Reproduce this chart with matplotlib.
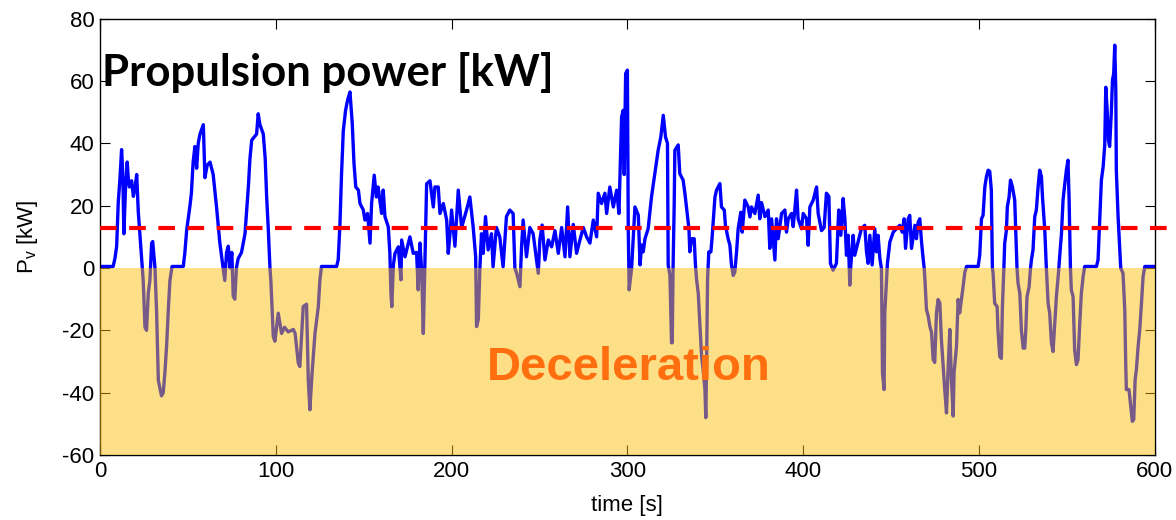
import matplotlib
matplotlib.use("Agg")
import matplotlib.pyplot as plt

plt.rcParams['font.family'] = ['Liberation Sans', 'DejaVu Sans']
plt.rcParams['mathtext.default'] = 'regular'
plt.rcParams['axes.unicode_minus'] = False

# Drive cycle propulsion power
time_s = [
    0, 7.5, 8.5, 9.5, 10.4, 11.3, 12.3, 13, 13.6, 14.5, 15.5, 16.2, 16.8, 18, 19, 20, 20.9, 21.8, 22.8, 23.7,
    24.6, 25.6, 26.5, 27.5, 28.4, 29.4, 30, 31.3, 32.2, 33.2, 35, 36, 37, 37.9, 39, 39.8, 41, 47.4, 48.3, 49.3,
    51.2, 52, 53, 54, 55, 55.9, 56.9, 58.8, 59.7, 61, 62.6, 64.4, 65.5, 66.4, 68.2, 70.1, 71, 72, 73, 74,
    75, 75.8, 76.7, 77.6, 78.6, 80.5, 82.5, 84.4, 85.3, 86.3, 89.1, 90, 91, 92.9, 94, 94.8, 95.7, 96.7, 97.2, 98.6,
    99.5, 101.4, 103.3, 105, 107.1, 110, 111, 112.8, 113.7, 115.6, 117.5, 118.5, 119.4, 120.6, 122.3, 124.2, 125.1, 126, 134.6, 135.5,
    136.5, 137.4, 138.4, 139.7, 140.9, 142.2, 143.5, 144.5, 145.5, 147, 147.9, 149.8, 150.7, 152.2, 153.6, 154.5, 156, 157.2, 158.2, 160.2,
    161.1, 162.1, 164, 164.9, 165.5, 166, 166.9, 167.8, 169.7, 171.2, 171.6, 173.5, 176.3, 178.2, 180.1, 181, 182, 183, 183.9, 184.8,
    185.8, 187.7, 189.6, 190.5, 192.4, 193.4, 195.3, 197.2, 198.1, 199.1, 200, 201.9, 203.8, 205.7, 208.5, 210.4, 212.3, 213.7, 214.2, 215.2,
    216.1, 217, 218, 219.3, 220.8, 222.7, 223.6, 225.5, 227.4, 229.3, 231.2, 233.1, 235, 236, 237, 238.9, 239.8, 240.7, 242.6, 244.5,
    246.4, 248.3, 249.3, 250.2, 251.5, 253.1, 255, 256.9, 258.8, 260.7, 262.6, 264.5, 266, 267.3, 269.2, 271.1, 273, 274.9, 276.8, 278.7,
    280.6, 282.5, 283.4, 285.3, 287.2, 288.2, 290, 292, 293.9, 295.2, 296.7, 297.6, 298.2, 299, 300, 300.5, 301, 302.4, 304.3, 306.2,
    307.2, 308.1, 309, 310, 311.8, 313.7, 315.6, 317.5, 319, 320.4, 321.7, 322.8, 323.2, 324.2, 325.1, 325.5, 326, 326.6, 327, 328.9,
    329.8, 331.7, 332.7, 333.6, 335, 335.5, 336.5, 338, 338.7, 339.3, 340.3, 341.2, 342.2, 343.1, 344.1, 344.6, 345, 345.6, 346.3, 347.5,
    348.2, 349.8, 350.7, 352.6, 353.5, 355.1, 355.8, 357.3, 358.3, 359.2, 360.2, 361.1, 362.1, 363, 364.5, 365.3, 366.8, 368.7, 369.7, 370.6,
    372.5, 374.4, 375.3, 376.3, 378.2, 380.1, 381, 382, 383.9, 384.8, 385.8, 387.7, 389.6, 390.5, 391.5, 393.4, 394.3, 395.2, 396.2, 397.1,
    399, 400, 401.9, 402.8, 403.8, 405.7, 407.6, 408.5, 410.4, 411.9, 413.2, 414.6, 415.5, 417, 418.9, 420.2, 421.4, 422.7, 423.7, 424.6,
    425.6, 426.5, 427.1, 428.4, 429.3, 431.2, 433.1, 435, 436, 436.9, 437.9, 439.2, 440.7, 441.7, 442.6, 443.6, 444.5, 445.1, 446, 446.4,
    447.4, 447.9, 449.3, 451.2, 453, 454.9, 456.3, 457.4, 458.2, 459.7, 460.6, 461.6, 463.5, 464.4, 465.4, 466.3, 467.3, 468.2, 468.8, 469.2,
    470.1, 471.1, 472, 473, 473.9, 474.8, 475.8, 476.7, 477.7, 478.6, 479.6, 480.5, 481.5, 482.4, 483.4, 484.3, 485.3, 485.8, 487.2, 488.1,
    489, 490, 491, 491.9, 492.9, 499.5, 500.4, 501.4, 502.3, 503.3, 504.2, 505.2, 506.1, 507, 507.6, 508, 508.9, 510.3, 510.8, 511.8,
    512.7, 513.3, 514.1, 514.6, 515.6, 516.1, 517.1, 517.9, 519, 520.3, 520.9, 521.6, 522.2, 523.2, 524.1, 525.1, 526, 526.6, 527.3, 528.5,
    529.2, 529.8, 530.7, 531.7, 532.6, 533.6, 534.5, 535.5, 536.1, 537.4, 538.3, 539.3, 540.2, 541.2, 542.1, 543.1, 544, 545, 545.9, 546.9,
    547.8, 548.8, 549.7, 550.6, 551.2, 552, 552.5, 553.5, 554.4, 555.4, 556.3, 557.3, 558.2, 559.2, 560.1, 566.8, 567.7, 568.7, 569.6, 570.6,
    571.5, 572.1, 572.8, 573.6, 574.3, 575.3, 575.9, 576.6, 577.2, 577.8, 578.1, 579.1, 580, 580.6, 581.9, 582.9, 583.4, 583.8, 585.3, 586.1,
    587.2, 588, 588.8, 589.5, 590.5, 591.4, 592.4, 593.3, 594.3, 600,
]
power_kw = [
    0.5, 0.5, 3, 7, 21, 28, 38, 30, 11, 25, 34, 28, 26, 28, 23, 26, 30, 18, 10, 3,
    -4, -19, -20, -8, -4, 8, 8.5, 0, -14, -36, -41, -40, -33, -25, -12, -4, 0.5, 0.5, 5, 12,
    20, 24, 34, 39, 32, 40, 43, 46, 29, 33, 34, 30, 24, 19, 8, 0, -4, 5, 7, 0,
    5, -9, -10, 0, 3, 5, 11, 26, 35, 41, 43, 49.5, 46, 43, 35, 23, 13, 0, -4, -22,
    -23.5, -14.5, -21, -19, -20.5, -19.7, -21, -30.5, -31.6, -12.4, -11.6, -36, -45.5, -34, -21, -12.4, -3.8, 0.5, 0.5, 2.6,
    14, 30, 44, 50.6, 54, 56.5, 46.4, 33.5, 26, 25, 20.7, 18.6, 15.4, 17.5, 8, 20.7, 29.8, 22.8, 26, 17.5,
    25, 16.5, 13.2, 4.7, -8, -12.4, 1, 4.7, 6.8, -3.8, 9, 3.6, 10, 4.7, 5, -7, 8, -1, -21, 1,
    27, 28, 19.6, 26, 26, 17.5, 20.7, 15.4, 4.7, 11, 18.6, 7, 25, 13, 18.6, 22.8, 13, 3.6, -18.8, -16.5,
    0, 11, 4.7, 16.5, 5.8, 11, 0.4, 13, 10, 0.4, 16.5, 18.6, 17.5, 0, -1.7, -6, 6.8, 15.4, 3.6, 13,
    11, 2.6, -1.7, 9, 13.8, 2.6, 9, 6.8, 12, 4.7, 13, 3.6, 19.6, 3.6, 14, 4.7, 9, 13, 10, 8,
    15.4, 10, 24, 20.7, 24, 17.5, 26, 19.6, 25, 17.5, 48.5, 50.6, 30, 62.4, 63.5, 12, -7, 0, 19.6, 17,
    1, 7.4, 5.2, 9.4, 12.6, 22.8, 30.3, 37.8, 42, 49, 42, 40, 1, -2.4, -24, -24, 1, 19.6, 37.8, 39.5,
    30.3, 28.2, 24, 19.6, 12.6, 5.2, 9.4, 9.4, 1, -3.4, -8.1, -17.7, -28.4, -32.7, -39, -48, -32.7, -3.4, 5.2, 5.2,
    10, 22.8, 25, 27.1, 19.6, 18.6, 13.5, 9.4, 7.3, 1, -2.4, -1.3, 5.2, 12.6, 17.9, 11.5, 21.8, 19.6, 16.4, 19.6,
    17.5, 23.4, 15.8, 21, 16.5, 18.6, 6.3, 15.8, 2.6, 15.8, 9.4, 17.5, 18.6, 11.5, 15.8, 17.5, 13.3, 18.6, 25, 15.8,
    12.6, 17.5, 15.8, 7.3, 19.6, 21.8, 26, 17.5, 12, 13, 24, 23, 1.5, -0.7, 1.5, 18.6, 10.5, 22.3, 15.8, 4.1,
    10.5, -5.5, 1, 10.5, 4.1, 8.4, 12.6, 13.7, 5.2, 1.5, 10.5, 1, 12.6, 5.2, 10.5, 3.1, -0.2, -33.7, -39, -14.4,
    -3.4, 1.5, 8.4, 11.5, 12.6, 13.7, 11.5, 15.8, 6.3, 15.8, 16.9, 6.3, 13.7, 9.4, 14.7, 15.8, 8.4, 3.1, 0, -3.4,
    -13.3, -15.4, -18.6, -20.7, -29.3, -30.3, -14.4, -10.1, -11.2, -22.9, -31.4, -39, -46.5, -32.6, -19.7, -35.8, -47.5, -33.7, -25.1, -10.1,
    -14.4, -10.1, -5.7, -1.4, 0.5, 0.5, 4.1, 15.8, 16.9, 26, 29.3, 31.4, 31, 25, 0, -1.7, -11.3, -12.4, -19.9, -28.4,
    -29, -12.4, -0.6, 7.9, 12.2, 19.6, 22.8, 28.2, 26, 21.8, 12.2, 0, -4.9, -8.1, -19.9, -25.7, -25.7, -19.9, -9.2, -6,
    -0.6, 2.6, 5.8, 16.5, 18.6, 26, 31.4, 29.3, 22.8, 12.2, 0, -11.3, -14.5, -24.1, -26.8, -17.7, -9.2, -2.8, 3.6, 11.1,
    21.8, 27.1, 31.4, 34.6, 22.8, 0, -7, -9.2, -26.3, -31, -29.5, -17.7, -8.1, -2.8, 0.5, 0.5, 2.6, 16.5, 28.2, 32.5,
    39.4, 58, 51.7, 41, 39, 50.5, 60.3, 62.4, 71.5, 57, 31.4, 16.5, 6.8, 0, -1.7, -13.4, -29.5, -39, -39, -43.3,
    -49.2, -48.7, -35.8, -32.6, -25.1, -19.9, -11.3, -2.8, 0.5, 0.5,
]
mean_power = 12.8

fig = plt.figure(figsize=(11.76, 5.2), dpi=100)
ax = fig.add_axes([0.085, 0.125, 0.897, 0.839])

ax.plot(time_s, power_kw, color='#0000FF', lw=2.4, zorder=2)
# deceleration band drawn on top of the trace, semi transparent
ax.axhspan(-60, 0, color='#FBBE05', alpha=0.48, lw=0, zorder=3)
ax.plot([0, 612], [mean_power, mean_power], color='#FF0000', lw=3,
        linestyle=(0, (4, 3)), clip_on=False, zorder=4)

ax.text(1, 58.5, 'Propulsion power [kW]', family='Lato', weight='bold',
        fontsize=31.5, color='black', va='baseline', ha='left', zorder=5)
ax.text(220, -36, 'Deceleration', weight='bold', fontsize=34,
        color='#FF6F0F', va='baseline', ha='left', zorder=5)

ax.set_xlim(0, 600)
ax.set_ylim(-60, 80)
ax.set_xticks(range(0, 601, 100))
ax.set_yticks(range(-60, 81, 20))
ax.tick_params(direction='in', length=7, width=0.8, top=True, right=True,
               labelsize=16, pad=4)
ax.set_xlabel('time [s]', fontsize=16, labelpad=10)
ax.set_ylabel('P$_{v}$ [kW]', fontsize=16, labelpad=16)
for s in ax.spines.values():
    s.set_linewidth(1.0)

fig.savefig('out.png', dpi=100)
